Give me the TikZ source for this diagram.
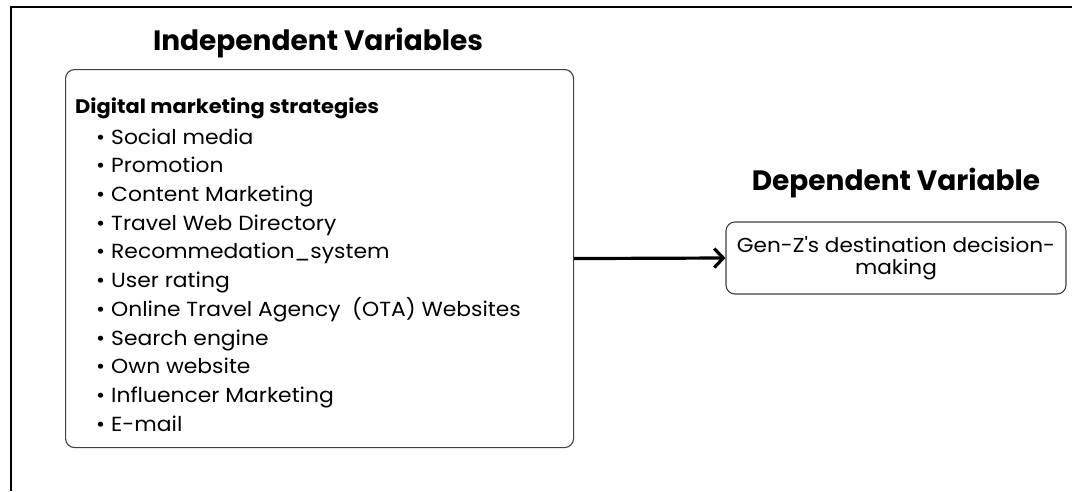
\documentclass[tikz,border=0pt]{standalone}
\usepackage{fontspec}
\setmainfont{Poppins}
\newfontfamily\widefont{Poppins}[FakeStretch=1.07]
\usetikzlibrary{arrows.meta}
\tikzset{
  varbox/.style={draw=black!75, line width=1.1pt, rounded corners=9pt, fill=white, inner sep=0pt},
  heading/.style={font=\fontsize{28}{32}\selectfont\bfseries, anchor=base, inner sep=0pt},
  itemtext/.style={font=\widefont\fontsize{20.4}{28.7}\selectfont, align=left, anchor=north west, inner sep=0pt},
  link/.style={line width=3.2pt, -{Straight Barb[length=9pt, width=19pt, line width=3.2pt]}}
}
\newcommand{\bul}{\makebox[15pt][l]{\textbullet}}
\begin{document}
\begin{tikzpicture}[x=1pt, y=-1pt]
\useasboundingbox (0,0) rectangle (1072,491);
% outer frame (left and top edges)
\coordinate (frameBL) at (11,491);
\coordinate (frameTL) at (11,7);
\coordinate (frameTR) at (1072,7);
\draw[line width=2pt] (frameBL) -- (frameTL) -- (frameTR);

% headings
\node[heading] (ivtitle) at (318,50) {Independent Variables};
\node[heading] (dvtitle) at (896,190) {Dependent Variable};

% independent variables box
\node[varbox, minimum width=508pt, minimum height=378pt, anchor=north west] (ivbox) at (65,69) {};
\node[itemtext] (ivlist) at (75,98) {%
  {\fontsize{19.6}{28.7}\selectfont\bfseries Digital marketing strategies}\\[1.5pt]
  \hspace*{21pt}\bul Social media\\
  \hspace*{21pt}\bul Promotion\\
  \hspace*{21pt}\bul Content Marketing\\
  \hspace*{21pt}\bul Travel Web Directory\\
  \hspace*{21pt}\bul Recommedation\_system\\
  \hspace*{21pt}\bul User rating\\
  \hspace*{21pt}\bul Online Travel Agency~ (OTA) Websites\\
  \hspace*{21pt}\bul Search engine\\
  \hspace*{21pt}\bul Own website\\
  \hspace*{21pt}\bul Influencer Marketing\\
  \hspace*{21pt}\bul E-mail};

% dependent variable box
\node[varbox, minimum width=340pt, minimum height=72pt, align=center,
      font=\widefont\fontsize{20.2}{22}\selectfont] (dvbox) at (896,258)
  {Gen-Z's destination decision-\\making};

\draw[link] (ivbox.east) -- (dvbox.west);
\end{tikzpicture}
\end{document}
